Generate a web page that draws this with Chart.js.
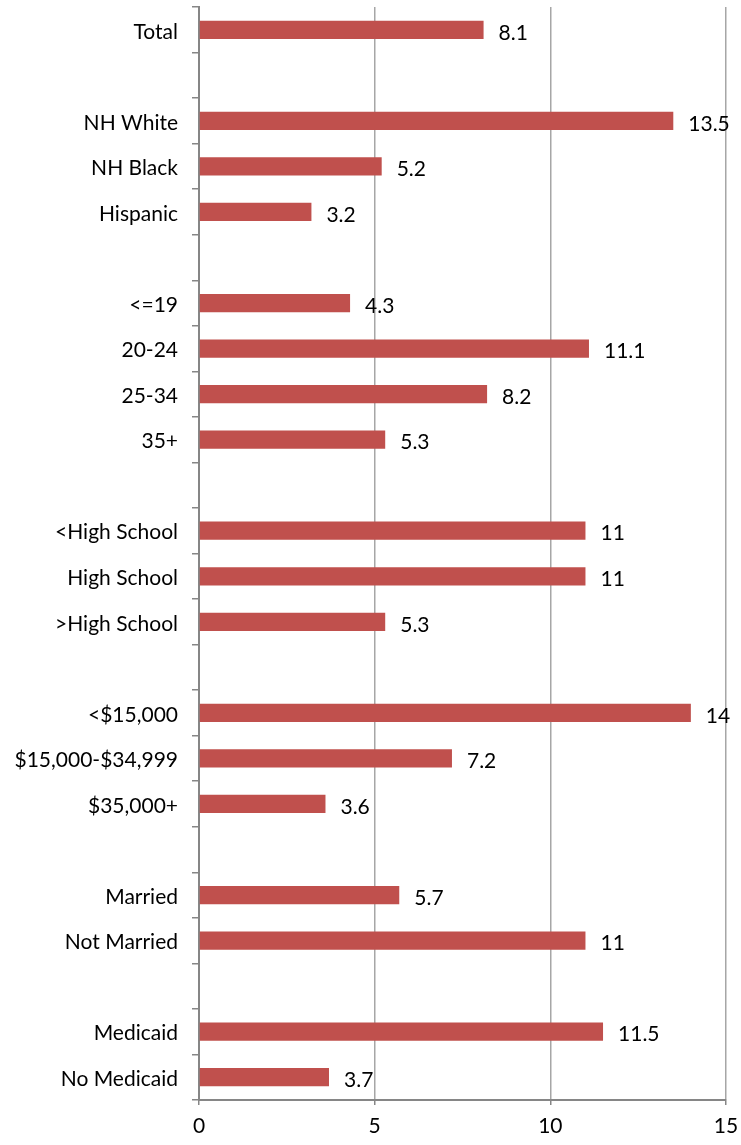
<!DOCTYPE html>
<html>
<head>
<meta charset="utf-8">
<script src="https://cdn.jsdelivr.net/npm/chart.js@4"></script>
<style>
  html, body { margin: 0; padding: 0; background: #fff; }
  #wrap { width: 741px; height: 1145px; }
</style>
</head>
<body>
<div id="wrap"><canvas id="graph" width="741" height="1145"></canvas></div>
<script>
// rows, blank strings are the gaps between groups
const categories = ['Total', '', 'NH White', 'NH Black', 'Hispanic', '',
  '<=19', '20-24', '25-34', '35+', '',
  '<High School', 'High School', '>High School', '',
  '<$15,000', '$15,000-$34,999', '$35,000+', '',
  'Married', 'Not Married', '', 'Medicaid', 'No Medicaid']
const values = [8.1, null, 13.5, 5.2, 3.2, null,
  4.3, 11.1, 8.2, 5.3, null,
  11, 11, 5.3, null,
  14, 7.2, 3.6, null,
  5.7, 11, null, 11.5, 3.7]
const xTicks = [0, 5, 10, 15]

const font = "Lato, 'Liberation Sans', sans-serif"

// writes the value at the end of each bar
const valueLabels = {
  id: 'valueLabels',
  afterDatasetsDraw(chart) {
    const ctx = chart.ctx
    const meta = chart.getDatasetMeta(0)
    ctx.save()
    ctx.font = '21px ' + font
    ctx.fillStyle = '#000'
    ctx.textAlign = 'left'
    ctx.textBaseline = 'middle'
    meta.data.forEach((bar, i) => {
      if (values[i] == null) return
      ctx.fillText(String(values[i]), bar.x + 15, bar.y + 3)
    })
    ctx.restore()
  }
}

let graph = document.getElementById('graph').getContext('2d')

new Chart(graph, {
  type: 'bar',
  data: {
    labels: categories,
    datasets: [{
      data: values,
      backgroundColor: '#C0504D',
      categoryPercentage: 1,
      barPercentage: 0.4,
    }]
  },
  options: {
    indexAxis: 'y',
    responsive: false,
    animation: false,
    layout: { padding: { top: 7, right: 15 } },
    plugins: { legend: { display: false }, tooltip: { enabled: false } },
    scales: {
      x: {
        min: 0,
        max: 15,
        afterBuildTicks: s => { s.ticks = xTicks.map(v => ({ value: v })) },
        afterFit: s => { s.height = 45; s.paddingRight = 0; s.paddingLeft = 0 },
        border: { color: '#868686', width: 2 },
        grid: { color: '#a6a6a6', lineWidth: 1.5, tickLength: 5, tickColor: '#868686' },
        ticks: { color: '#000', font: { family: font, size: 21 }, padding: 9 }
      },
      y: {
        afterFit: s => { s.width = 199; s.paddingTop = 0; s.paddingBottom = 0 },
        border: { color: '#868686', width: 2 },
        grid: { display: true, drawOnChartArea: false, offset: true, tickLength: 7, color: '#868686', lineWidth: 1.5 },
        ticks: { color: '#000', font: { family: font, size: 21 }, padding: 14, labelOffset: 2, autoSkip: false }
      }
    }
  },
  plugins: [valueLabels]
})
</script>
</body>
</html>
